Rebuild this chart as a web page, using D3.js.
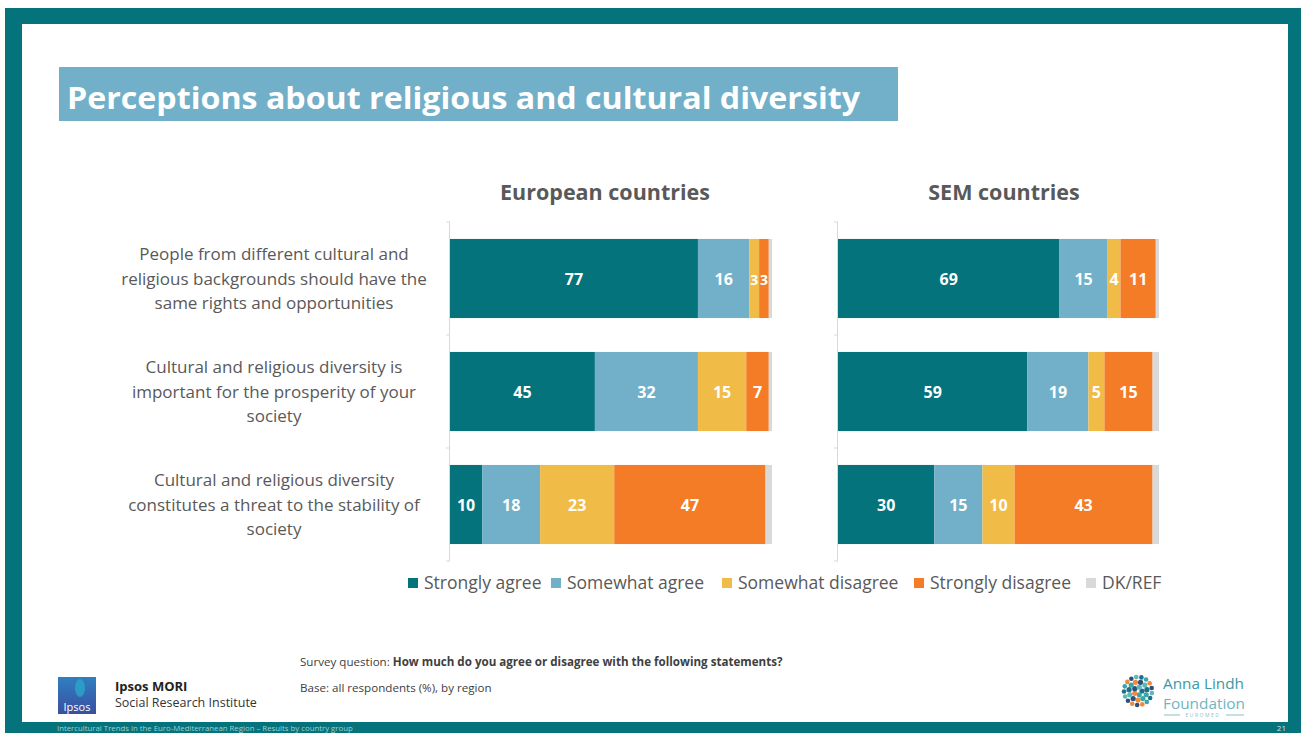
<!DOCTYPE html>
<html>
<head>
<meta charset="utf-8">
<script src="https://cdn.jsdelivr.net/npm/d3@7"></script>
<style>
  body { margin: 0; background: #fff; }
  svg { display: block; font-family: "Open Sans", "Noto Sans", sans-serif; }
</style>
</head>
<body>
<div id="chart"></div>
<script>
// data
const categories = [
	["People from different cultural and", "religious backgrounds should have the", "same rights and opportunities"],
	["Cultural and religious diversity is", "important for the prosperity of your", "society"],
	["Cultural and religious diversity", "constitutes a threat to the stability of", "society"]
];
const seriesNames = ["Strongly agree", "Somewhat agree", "Somewhat disagree", "Strongly disagree", "DK/REF"];
const seriesColors = ["#05737b", "#71b0c8", "#f0bb47", "#f47c27", "#d9d9d9"];
// one row per statement, values in series order
const europeanValues = [[77, 16, 3, 3, 1], [45, 32, 15, 7, 1], [10, 18, 23, 47, 2]];
const semValues = [[69, 15, 4, 11, 1], [59, 19, 5, 15, 2], [30, 15, 10, 43, 2]];
const panelTitles = ["European countries", "SEM countries"];

const W = 1301, H = 733;
const TEAL = "#05737b";
const GREY_TEXT = "#595959";

const svg = d3.select("#chart").append("svg")
	.attr("width", W).attr("height", H);

// slide frame
svg.append("rect").attr("x", 5).attr("y", 8).attr("width", W - 5).attr("height", H - 8).attr("fill", TEAL);
svg.append("rect").attr("x", 22).attr("y", 24).attr("width", 1266).attr("height", 698).attr("fill", "#fff");

// title
svg.append("rect").attr("x", 59).attr("y", 67).attr("width", 839).attr("height", 54).attr("fill", "#71b0c8");
svg.append("text").attr("x", 67).attr("y", 109)
	.attr("fill", "#fff").attr("font-size", 31).attr("font-weight", 700)
	.attr("textLength", 793).attr("lengthAdjust", "spacingAndGlyphs")
	.text("Perceptions about religious and cultural diversity");

// shared y scale
const y = d3.scaleBand()
	.domain(d3.range(categories.length))
	.range([222, 561])
	.paddingInner(0.3)
	.paddingOuter(0.15);

// category labels
const catG = svg.append("g").attr("fill", GREY_TEXT).attr("font-size", 17).attr("text-anchor", "middle");
categories.forEach((lines, i) => {
	const cy = y(i) + y.bandwidth() / 2;
	lines.forEach((line, j) => {
		catG.append("text")
			.attr("x", 274)
			.attr("y", cy + (j - 1) * 24.5 + 6)
			.text(line);
	});
});

const stack = d3.stack().keys(seriesNames);

function drawPanel(values, title, titleX, x0, x1){
	const x = d3.scaleLinear().domain([0, 100]).range([x0, x1]);
	const g = svg.append("g");

	// panel title
	g.append("text")
		.attr("x", titleX)
		.attr("y", 200)
		.attr("text-anchor", "middle")
		.attr("fill", GREY_TEXT)
		.attr("font-size", 21.5).attr("font-weight", 700)
		.text(title);

	// category axis: line plus ticks at band boundaries
	const step = y.step();
	const bounds = d3.range(categories.length + 1).map(i => y(0) - y.paddingInner() * step / 2 + i * step);
	g.append("line")
		.attr("x1", x0 - 0.5).attr("x2", x0 - 0.5)
		.attr("y1", bounds[0]).attr("y2", bounds[bounds.length - 1])
		.attr("stroke", "#d9d9d9");
	g.selectAll(".tick").data(bounds).join("line")
		.attr("x1", x0 - 4).attr("x2", x0)
		.attr("y1", d => d).attr("y2", d => d)
		.attr("stroke", "#d9d9d9");

	const table = values.map((row, i) => {
		const o = { idx: i };
		seriesNames.forEach((k, j) => o[k] = row[j]);
		return o;
	});
	const series = stack(table);

	const layers = g.selectAll(".layer").data(series).join("g")
		.attr("fill", (d, i) => seriesColors[i]);

	layers.selectAll("rect").data(d => d).join("rect")
		.attr("x", d => x(d[0]))
		.attr("y", d => y(d.data.idx))
		.attr("width", d => x(d[1]) - x(d[0]))
		.attr("height", y.bandwidth());

	// value labels (DK/REF not labelled)
	layers.filter(d => d.key !== "DK/REF")
		.selectAll("text").data(d => d).join("text")
		.attr("x", d => (x(d[0]) + x(d[1])) / 2)
		.attr("y", d => y(d.data.idx) + y.bandwidth() / 2 + 6)
		.attr("text-anchor", "middle")
		.attr("fill", "#fff")
		.attr("font-size", d => (d[1] - d[0]) < 4 ? 14 : 16).attr("font-weight", 700)
		.text(d => d[1] - d[0]);
}

drawPanel(europeanValues, panelTitles[0], 605, 450, 772);
drawPanel(semValues, panelTitles[1], 1004, 838, 1159);

// legend
const legendX = [408, 551, 722, 914, 1086];
const legend = svg.append("g").selectAll("g").data(seriesNames).join("g")
	.attr("transform", (d, i) => `translate(${legendX[i]},583)`);
legend.append("rect")
	.attr("x", 0).attr("y", -5).attr("width", 10).attr("height", 10)
	.attr("fill", (d, i) => seriesColors[i]);
legend.append("text")
	.attr("x", 16).attr("y", 6)
	.attr("fill", GREY_TEXT).attr("font-size", 17.5)
	.text(d => d);

// footnotes
const foot = svg.append("g").attr("fill", "#404040").attr("font-size", 11.6);
const q = foot.append("text").attr("x", 300).attr("y", 666);
q.append("tspan").text("Survey question: ");
q.append("tspan").attr("font-weight", 700).text("How much do you agree or disagree with the following statements?");
foot.append("text").attr("x", 300).attr("y", 692).text("Base: all respondents (%), by region");

// Ipsos logo
const grad = svg.append("defs").append("linearGradient").attr("id", "ipsosGrad")
	.attr("x1", 0).attr("y1", 0).attr("x2", 0).attr("y2", 1);
grad.append("stop").attr("offset", "0%").attr("stop-color", "#2f7fc1");
grad.append("stop").attr("offset", "100%").attr("stop-color", "#3a4fa0");
svg.append("rect").attr("x", 58).attr("y", 677).attr("width", 38).attr("height", 37).attr("fill", "url(#ipsosGrad)");
svg.append("ellipse").attr("cx", 80).attr("cy", 688).attr("rx", 5).attr("ry", 9).attr("fill", "#2aa6c9").attr("opacity", 0.8);
svg.append("text").attr("x", 77).attr("y", 711).attr("text-anchor", "middle")
	.attr("fill", "#fff").attr("font-size", 11).text("Ipsos");
svg.append("text").attr("x", 115).attr("y", 691).attr("fill", "#222")
	.attr("font-size", 13).attr("font-weight", 700).text("Ipsos MORI");
svg.append("text").attr("x", 115).attr("y", 707).attr("fill", "#333")
	.attr("font-size", 12.5).text("Social Research Institute");

// Anna Lindh logo: ring of small dots
const dotColors = ["#1e6f8a", "#3aa6a8", "#f08a3c", "#2d4f7c", "#5fb8b6"];
const logo = svg.append("g").attr("transform", "translate(1138,691)");
[4, 9, 14].forEach((r, ri) => {
	const n = r === 4 ? 5 : r === 9 ? 11 : 17;
	d3.range(n).forEach(k => {
		const a = k / n * 2 * Math.PI + ri;
		logo.append("circle")
			.attr("cx", r * Math.cos(a)).attr("cy", r * Math.sin(a))
			.attr("r", ri === 2 ? 2.3 : 2.6)
			.attr("fill", dotColors[(k + ri) % dotColors.length]);
	});
});
svg.append("text").attr("x", 1163).attr("y", 689).attr("fill", "#3b97a5")
	.attr("font-size", 15).attr("textLength", 81).attr("lengthAdjust", "spacingAndGlyphs")
	.text("Anna Lindh");
svg.append("text").attr("x", 1163).attr("y", 709).attr("fill", "#6fb5c2")
	.attr("font-size", 15).attr("textLength", 82).attr("lengthAdjust", "spacingAndGlyphs")
	.text("Foundation");
svg.append("line").attr("x1", 1164).attr("x2", 1180).attr("y1", 715).attr("y2", 715).attr("stroke", "#8bbfca");
svg.append("line").attr("x1", 1226).attr("x2", 1244).attr("y1", 715).attr("y2", 715).attr("stroke", "#8bbfca");
svg.append("text").attr("x", 1203).attr("y", 717).attr("text-anchor", "middle").attr("fill", "#8bbfca")
	.attr("font-size", 5).attr("letter-spacing", 1.5).text("EUROMED");

// bottom strip
svg.append("text").attr("x", 57).attr("y", 731).attr("fill", "#9fd0d4").attr("font-size", 7.8)
	.text("Intercultural Trends in the Euro-Mediterranean Region –  Results by country group");
svg.append("text").attr("x", 1286).attr("y", 731).attr("fill", "#cfe7ea").attr("font-size", 8)
	.attr("text-anchor", "end").text("21");
</script>
</body>
</html>
